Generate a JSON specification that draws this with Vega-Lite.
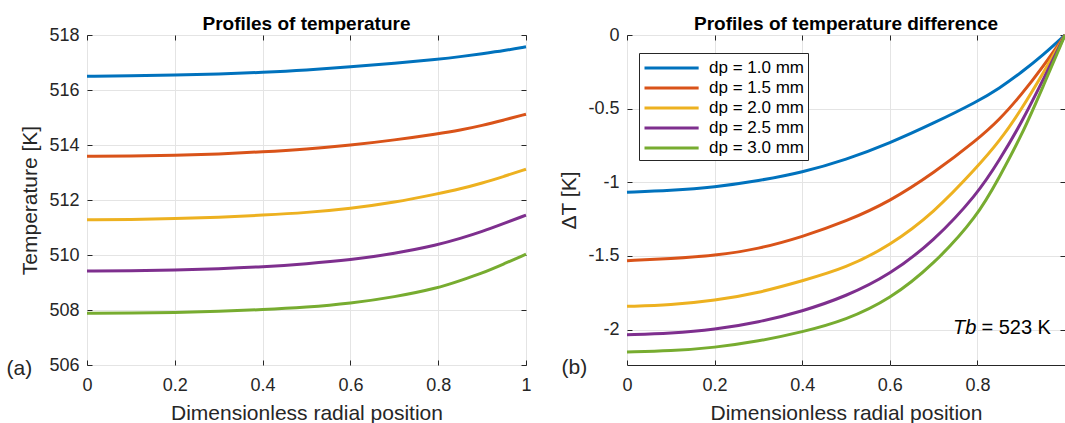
{
  "$schema": "https://vega.github.io/schema/vega-lite/v6.json",
  "padding": {"left": 5, "top": 14, "right": 0, "bottom": 0},
  "background": "white",
  "spacing": 25,
  "config": {
    "font": "Liberation Sans",
    "view": {"stroke": "#262626", "strokeWidth": 1},
    "axis": {
      "labelFont": "Liberation Sans", "labelFontSize": 18, "labelColor": "#262626",
      "titleFont": "Liberation Sans", "titleFontSize": 21, "titleFontWeight": "normal", "titleColor": "#262626",
      "domain": false, "tickColor": "#262626", "tickSize": -5, "gridColor": "#e4e4e4", "gridWidth": 1,
      "labelFlush": false, "labelOverlap": false, "titlePadding": 8
    },
    "axisX": {"labelPadding": 16.5},
    "axisY": {"labelPadding": 13},
    "title": {"font": "Liberation Sans", "fontSize": 19, "fontWeight": "bold", "color": "#000000", "offset": -8},
    "legend": {
      "orient": "none", "legendX": 12, "legendY": 18, "title": null,
      "symbolType": "M-1,0H4.7", "symbolSize": 361, "symbolStrokeWidth": 3, "symbolFillColor": "transparent",
      "labelFont": "Liberation Sans", "labelFontSize": 17, "labelColor": "#000000", "labelOffset": 44,
      "rowPadding": 1, "padding": 4, "strokeColor": "#262626", "fillColor": "white", "cornerRadius": 0
    }
  },
  "resolve": {"scale": {"color": "independent"}},
  "datasets": {
    "profiles": [
      {"dp": "dp = 1.0 mm", "x": 0, "T": 516.50, "dT": -1.067},
      {"dp": "dp = 1.0 mm", "x": 0.1, "T": 516.52, "dT": -1.055},
      {"dp": "dp = 1.0 mm", "x": 0.2, "T": 516.54, "dT": -1.033},
      {"dp": "dp = 1.0 mm", "x": 0.3, "T": 516.58, "dT": -0.99},
      {"dp": "dp = 1.0 mm", "x": 0.4, "T": 516.64, "dT": -0.933},
      {"dp": "dp = 1.0 mm", "x": 0.5, "T": 516.72, "dT": -0.847},
      {"dp": "dp = 1.0 mm", "x": 0.6, "T": 516.84, "dT": -0.734},
      {"dp": "dp = 1.0 mm", "x": 0.7, "T": 516.97, "dT": -0.599},
      {"dp": "dp = 1.0 mm", "x": 0.8, "T": 517.12, "dT": -0.452},
      {"dp": "dp = 1.0 mm", "x": 0.85, "T": 517.21, "dT": -0.362},
      {"dp": "dp = 1.0 mm", "x": 0.9, "T": 517.32, "dT": -0.255},
      {"dp": "dp = 1.0 mm", "x": 0.95, "T": 517.43, "dT": -0.136},
      {"dp": "dp = 1.0 mm", "x": 1, "T": 517.57, "dT": 0},
      {"dp": "dp = 1.5 mm", "x": 0, "T": 513.59, "dT": -1.532},
      {"dp": "dp = 1.5 mm", "x": 0.1, "T": 513.60, "dT": -1.518},
      {"dp": "dp = 1.5 mm", "x": 0.2, "T": 513.62, "dT": -1.498},
      {"dp": "dp = 1.5 mm", "x": 0.3, "T": 513.67, "dT": -1.453},
      {"dp": "dp = 1.5 mm", "x": 0.4, "T": 513.75, "dT": -1.37},
      {"dp": "dp = 1.5 mm", "x": 0.5, "T": 513.85, "dT": -1.266},
      {"dp": "dp = 1.5 mm", "x": 0.6, "T": 513.99, "dT": -1.13},
      {"dp": "dp = 1.5 mm", "x": 0.7, "T": 514.18, "dT": -0.938},
      {"dp": "dp = 1.5 mm", "x": 0.8, "T": 514.41, "dT": -0.71},
      {"dp": "dp = 1.5 mm", "x": 0.85, "T": 514.54, "dT": -0.576},
      {"dp": "dp = 1.5 mm", "x": 0.9, "T": 514.71, "dT": -0.407},
      {"dp": "dp = 1.5 mm", "x": 0.95, "T": 514.91, "dT": -0.215},
      {"dp": "dp = 1.5 mm", "x": 1, "T": 515.12, "dT": 0},
      {"dp": "dp = 2.0 mm", "x": 0, "T": 511.28, "dT": -1.842},
      {"dp": "dp = 2.0 mm", "x": 0.1, "T": 511.29, "dT": -1.833},
      {"dp": "dp = 2.0 mm", "x": 0.2, "T": 511.32, "dT": -1.803},
      {"dp": "dp = 2.0 mm", "x": 0.3, "T": 511.37, "dT": -1.751},
      {"dp": "dp = 2.0 mm", "x": 0.4, "T": 511.45, "dT": -1.669},
      {"dp": "dp = 2.0 mm", "x": 0.5, "T": 511.54, "dT": -1.582},
      {"dp": "dp = 2.0 mm", "x": 0.6, "T": 511.69, "dT": -1.43},
      {"dp": "dp = 2.0 mm", "x": 0.7, "T": 511.91, "dT": -1.209},
      {"dp": "dp = 2.0 mm", "x": 0.8, "T": 512.23, "dT": -0.895},
      {"dp": "dp = 2.0 mm", "x": 0.85, "T": 512.40, "dT": -0.723},
      {"dp": "dp = 2.0 mm", "x": 0.9, "T": 512.61, "dT": -0.508},
      {"dp": "dp = 2.0 mm", "x": 0.95, "T": 512.86, "dT": -0.26},
      {"dp": "dp = 2.0 mm", "x": 1, "T": 513.12, "dT": 0},
      {"dp": "dp = 2.5 mm", "x": 0, "T": 509.42, "dT": -2.034},
      {"dp": "dp = 2.5 mm", "x": 0.1, "T": 509.43, "dT": -2.025},
      {"dp": "dp = 2.5 mm", "x": 0.2, "T": 509.45, "dT": -2.0},
      {"dp": "dp = 2.5 mm", "x": 0.3, "T": 509.50, "dT": -1.95},
      {"dp": "dp = 2.5 mm", "x": 0.4, "T": 509.57, "dT": -1.876},
      {"dp": "dp = 2.5 mm", "x": 0.5, "T": 509.68, "dT": -1.774},
      {"dp": "dp = 2.5 mm", "x": 0.6, "T": 509.82, "dT": -1.627},
      {"dp": "dp = 2.5 mm", "x": 0.7, "T": 510.05, "dT": -1.401},
      {"dp": "dp = 2.5 mm", "x": 0.8, "T": 510.37, "dT": -1.08},
      {"dp": "dp = 2.5 mm", "x": 0.85, "T": 510.60, "dT": -0.85},
      {"dp": "dp = 2.5 mm", "x": 0.9, "T": 510.85, "dT": -0.6},
      {"dp": "dp = 2.5 mm", "x": 0.95, "T": 511.15, "dT": -0.305},
      {"dp": "dp = 2.5 mm", "x": 1, "T": 511.45, "dT": 0},
      {"dp": "dp = 3.0 mm", "x": 0, "T": 507.88, "dT": -2.151},
      {"dp": "dp = 3.0 mm", "x": 0.1, "T": 507.89, "dT": -2.145},
      {"dp": "dp = 3.0 mm", "x": 0.2, "T": 507.91, "dT": -2.122},
      {"dp": "dp = 3.0 mm", "x": 0.3, "T": 507.95, "dT": -2.079},
      {"dp": "dp = 3.0 mm", "x": 0.4, "T": 508.01, "dT": -2.017},
      {"dp": "dp = 3.0 mm", "x": 0.5, "T": 508.10, "dT": -1.935},
      {"dp": "dp = 3.0 mm", "x": 0.6, "T": 508.24, "dT": -1.795},
      {"dp": "dp = 3.0 mm", "x": 0.7, "T": 508.47, "dT": -1.559},
      {"dp": "dp = 3.0 mm", "x": 0.8, "T": 508.80, "dT": -1.232},
      {"dp": "dp = 3.0 mm", "x": 0.85, "T": 509.07, "dT": -0.965},
      {"dp": "dp = 3.0 mm", "x": 0.9, "T": 509.34, "dT": -0.689},
      {"dp": "dp = 3.0 mm", "x": 0.95, "T": 509.68, "dT": -0.35},
      {"dp": "dp = 3.0 mm", "x": 1, "T": 510.03, "dT": 0}
    ]
  },
  "hconcat": [
    {
      "width": 439,
      "height": 330,
      "title": "Profiles of temperature",
      "resolve": {"axis": {"x": "independent", "y": "independent"}},
      "layer": [
        {
          "data": {"name": "profiles"},
          "mark": {"type": "line", "strokeWidth": 3, "interpolate": "basis"},
          "encoding": {
            "x": {"field": "x", "type": "quantitative", "scale": {"domain": [0, 1], "nice": false},
                  "axis": {"values": [0, 0.2, 0.4, 0.6, 0.8, 1], "format": "~g", "title": "Dimensionless radial position", "grid": true}},
            "y": {"field": "T", "type": "quantitative", "scale": {"domain": [506, 518], "nice": false, "zero": false},
                  "axis": {"values": [506, 508, 510, 512, 514, 516, 518], "title": "Temperature [K]", "grid": true}},
            "color": {"field": "dp", "type": "nominal",
                      "scale": {"domain": ["dp = 1.0 mm", "dp = 1.5 mm", "dp = 2.0 mm", "dp = 2.5 mm", "dp = 3.0 mm"],
                                "range": ["#0072BD", "#D95319", "#EDB120", "#7E2F8E", "#77AC30"]},
                      "legend": null}
          }
        },
        {
          "data": {"values": [{"label": "(a)", "x": -0.125, "T": 505.85}]},
          "mark": {"type": "text", "align": "right", "baseline": "middle", "fontSize": 21, "font": "Liberation Sans", "color": "#262626"},
          "encoding": {
            "x": {"field": "x", "type": "quantitative", "scale": {"domain": [0, 1], "nice": false},
                  "axis": {"orient": "top", "values": [0, 0.2, 0.4, 0.6, 0.8, 1], "labels": false, "grid": false, "title": null}},
            "y": {"field": "T", "type": "quantitative", "scale": {"domain": [506, 518], "nice": false, "zero": false},
                  "axis": {"orient": "right", "values": [506, 508, 510, 512, 514, 516, 518], "labels": false, "grid": false, "title": null}},
            "text": {"field": "label"}
          }
        }
      ]
    },
    {
      "width": 438,
      "height": 330,
      "title": "Profiles of temperature difference",
      "resolve": {"axis": {"x": "independent", "y": "independent"}},
      "layer": [
        {
          "data": {"name": "profiles"},
          "mark": {"type": "line", "strokeWidth": 3, "interpolate": "basis"},
          "encoding": {
            "x": {"field": "x", "type": "quantitative", "scale": {"domain": [0, 1], "nice": false},
                  "axis": {"values": [0, 0.2, 0.4, 0.6, 0.8, 1], "labelExpr": "datum.value == 1 ? '' : format(datum.value, '~g')", "title": "Dimensionless radial position", "grid": true}},
            "y": {"field": "dT", "type": "quantitative", "scale": {"domain": [-2.24, 0], "nice": false, "zero": false},
                  "axis": {"values": [-2, -1.5, -1, -0.5, 0], "labelExpr": "datum.value == 0 ? '0' : '-' + format(-datum.value, '~g')", "title": "ΔT [K]", "grid": true}},
            "color": {"field": "dp", "type": "nominal",
                      "scale": {"domain": ["dp = 1.0 mm", "dp = 1.5 mm", "dp = 2.0 mm", "dp = 2.5 mm", "dp = 3.0 mm"],
                                "range": ["#0072BD", "#D95319", "#EDB120", "#7E2F8E", "#77AC30"]}}
          }
        },
        {
          "data": {"values": [{"label": "(b)", "x": -0.091, "dT": -2.26}]},
          "mark": {"type": "text", "align": "right", "baseline": "middle", "fontSize": 21, "font": "Liberation Sans", "color": "#262626"},
          "encoding": {
            "x": {"field": "x", "type": "quantitative", "scale": {"domain": [0, 1], "nice": false},
                  "axis": {"orient": "top", "values": [0, 0.2, 0.4, 0.6, 0.8, 1], "labels": false, "grid": false, "title": null}},
            "y": {"field": "dT", "type": "quantitative", "scale": {"domain": [-2.24, 0], "nice": false, "zero": false},
                  "axis": {"orient": "right", "values": [-2, -1.5, -1, -0.5, 0], "labels": false, "grid": false, "title": null}},
            "text": {"field": "label"}
          }
        },
        {
          "data": {"values": [{"label": "Tb", "x": 0.8, "dT": -1.986}]},
          "mark": {"type": "text", "align": "right", "baseline": "middle", "fontSize": 20, "fontStyle": "italic", "font": "Liberation Sans", "color": "#000000", "dx": -1},
          "encoding": {
            "x": {"field": "x", "type": "quantitative", "scale": {"domain": [0, 1], "nice": false}, "axis": null},
            "y": {"field": "dT", "type": "quantitative", "scale": {"domain": [-2.24, 0], "nice": false, "zero": false}, "axis": null},
            "text": {"field": "label"}
          }
        },
        {
          "data": {"values": [{"label": "= 523 K", "x": 0.8, "dT": -1.986}]},
          "mark": {"type": "text", "align": "left", "baseline": "middle", "fontSize": 20, "font": "Liberation Sans", "color": "#000000", "dx": 4},
          "encoding": {
            "x": {"field": "x", "type": "quantitative", "scale": {"domain": [0, 1], "nice": false}, "axis": null},
            "y": {"field": "dT", "type": "quantitative", "scale": {"domain": [-2.24, 0], "nice": false, "zero": false}, "axis": null},
            "text": {"field": "label"}
          }
        }
      ]
    }
  ]
}
